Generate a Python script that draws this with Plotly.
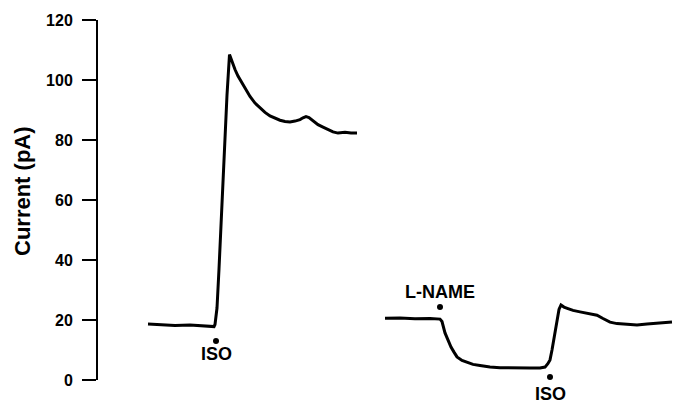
import plotly.graph_objects as go

# time (arbitrary units) and current (pA) for the two recordings
t_control = [51, 63, 78, 93, 103, 113, 117, 118, 120, 122, 124, 126, 128, 130, 132.5,
             135, 138, 141, 144, 148, 153, 158, 163, 168, 173, 178, 183, 188, 193, 198, 203,
             206, 209, 212, 216, 221, 226, 231, 236, 241, 248, 254, 260]
i_control = [18.7, 18.5, 18.2, 18.3, 18.0, 17.8, 17.8, 18.5, 24, 37, 52, 67, 81, 95, 108.5,
             106, 103.5, 101.3, 99.5, 97.3, 94.5, 92.3, 90.7, 89.2, 88, 87.2, 86.6, 86.2, 86.0,
             86.3, 86.8, 87.4, 87.8, 87.5, 86.4, 85.1, 84.3, 83.5, 82.7, 82.3, 82.6, 82.3, 82.3]

t_lname = [288, 303, 318, 333, 343, 345, 348, 351, 354, 357, 360, 365, 370, 376, 383, 393,
           403, 413, 423, 433, 443, 448, 451, 453, 455, 458, 460, 462, 464, 467, 471, 476,
           483, 493, 500, 506, 513, 520, 530, 540, 550, 560, 568, 575]
i_lname = [20.6, 20.7, 20.4, 20.5, 20.3, 19.5, 15.7, 13, 11, 9.3, 7.7, 6.5, 5.8, 5.2, 4.8, 4.3,
           4.1, 4.0, 3.9, 4.0, 4.0, 4.3, 5.5, 6.7, 10, 15.5, 20, 23.5, 25, 24.3, 23.8, 23.2,
           22.7, 22.2, 21.6, 20.5, 19.3, 18.8, 18.5, 18.3, 18.7, 19.0, 19.2, 19.3]

# event markers: label, time, dot level, label level
ev_labels = ["ISO", "L-NAME", "ISO"]
ev_t = [119, 343, 453]
ev_dot = [13, 24.3, 1.0]
ev_text = [8.6, 29.3, -4.6]

y_ticks = [0, 20, 40, 60, 80, 100, 120]
y_axis_span = [0, 120]

fig = go.Figure()
line = dict(color="black", width=3)
fig.add_trace(go.Scatter(x=t_control, y=i_control, mode="lines", line=line,
                         showlegend=False))
fig.add_trace(go.Scatter(x=t_lname, y=i_lname, mode="lines", line=line,
                         showlegend=False))
fig.add_trace(go.Scatter(x=ev_t, y=ev_dot, mode="markers",
                         marker=dict(color="black", size=6), showlegend=False))

for lab, tx, ty in zip(ev_labels, ev_t, ev_text):
    fig.add_annotation(x=tx, y=ty, text=lab, showarrow=False, xanchor="center",
                       yanchor="middle",
                       font=dict(family="Liberation Sans", size=18, color="black",
                                 weight="bold"))

# axis title
fig.add_annotation(x=0, y=63, xref="paper", yref="y", text="Current (pA)",
                   textangle=-90, showarrow=False, xanchor="center", yanchor="middle",
                   xshift=-75,
                   font=dict(family="Liberation Sans", size=22, color="black",
                             weight="bold"))

# y-axis spine drawn only over the labelled span
fig.add_shape(type="line", xref="paper", yref="y", x0=0, x1=0,
              y0=y_axis_span[0], y1=y_axis_span[1],
              line=dict(color="black", width=2))

fig.update_layout(
    width=673, height=403,
    margin=dict(l=97, r=0, t=20, b=0),
    plot_bgcolor="white", paper_bgcolor="white",
    xaxis=dict(range=[0, 576], visible=False, showgrid=False, zeroline=False),
    yaxis=dict(range=[-23 / 3, 120], tickvals=y_ticks, ticktext=[str(v) for v in y_ticks],
               showgrid=False, zeroline=False, showline=False,
               ticks="outside", ticklen=14, tickwidth=2, tickcolor="black",
               ticklabelstandoff=6,
               tickfont=dict(family="Liberation Sans", size=16, color="black", weight="bold")),
)

fig.write_html("out.html")
